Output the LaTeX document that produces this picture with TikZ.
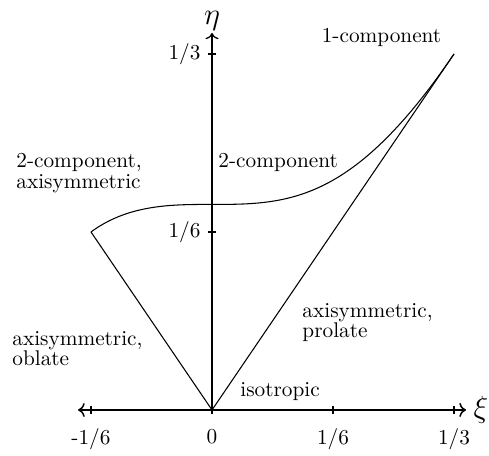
\documentclass[tikz,border=0pt]{standalone}
\usetikzlibrary{arrows.meta,positioning}
\tikzset{
  ax/.style={<->,line width=0.7pt},
  tk/.style={line width=0.6pt},
  crv/.style={line width=0.5pt},
  lbl/.style={align=left,inner sep=0pt,font=\fontsize{10}{9.5}\selectfont},
}
\begin{document}
\begin{tikzpicture}[x=56.87pt,y=83.66pt]
  \useasboundingbox (-1.752,-0.253) rectangle (2.289,2.303);
  \coordinate (O) at (0,0);
  \coordinate (L) at (-1,1);
  \coordinate (T) at (2,2);
  \coordinate (xl) at (-1.107,0);
  \coordinate (xr) at (2.099,0);
  \coordinate (yt) at (0,2.118);
  % axes
  \draw[ax] (xl) -- (xr);
  \draw[tk,->] (O) -- (yt);
  \node[right,font=\Large] (xi) at (xr) {$\xi$};
  \node[above,inner sep=1pt,font=\Large] (eta) at (yt) {$\eta$};
  \foreach \x/\t in {-1/{-1/6},0/0,1/{1/6},2/{1/3}} {
    \draw[tk] (\x,0) ++(0,1.9pt) -- ++(0,-3.8pt) coordinate (b\x);
    \node[below=3.5pt of b\x] (tx\x) {\t};
  }
  \foreach \y/\t in {1/{1/6},2/{1/3}} {
    \draw[tk] (0,\y) ++(1.9pt,0) -- ++(-3.8pt,0) coordinate (l\y);
    \node[left] (ty\y) at (l\y) {\t};
  }
  % triangle
  \draw[crv] (L) -- (O) -- (T);
  \draw[crv] plot[domain=-1:2,samples=120,smooth] (\x,{sqrt((4+\x*\x*\x)/3)});
  % labels
  \node[lbl,anchor=west] (c2a) at (-1.620,1.331) {2-component,\\axisymmetric};
  \node[lbl,anchor=west] (c2) at (0.050,1.388) {2-component};
  \node[lbl] (c1) at (1.401,2.090) {1-component};
  \node[lbl,anchor=west] (obl) at (-1.653,0.343) {axisymmetric,\\oblate};
  \node[lbl,anchor=west] (pro) at (0.744,0.492) {axisymmetric,\\prolate};
  \node[lbl,anchor=west] (iso) at (0.231,0.101) {isotropic};
\end{tikzpicture}
\end{document}
